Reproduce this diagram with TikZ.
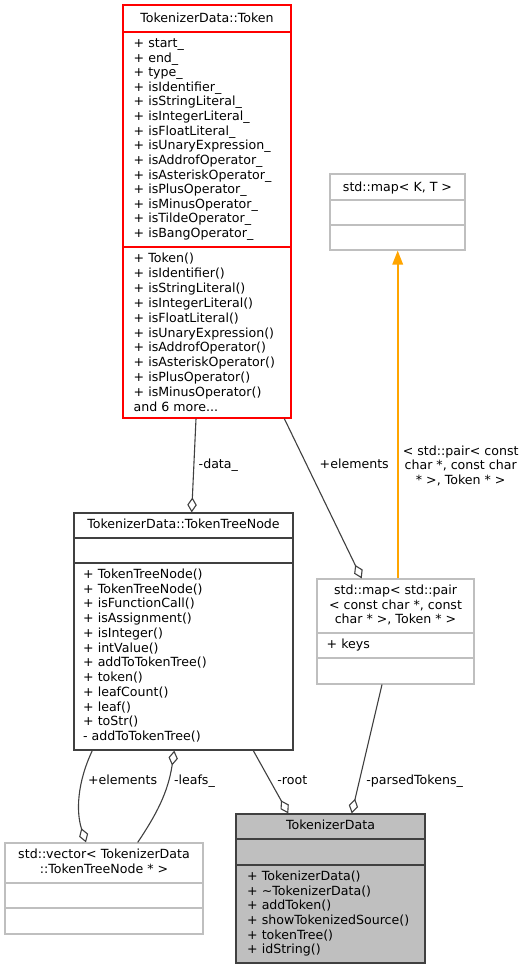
\documentclass[tikz,border=0pt]{standalone}
\usepackage{fontspec}
\setmainfont{DejaVu Sans}
\usetikzlibrary{arrows.meta}
\definecolor{edgegray}{HTML}{404040}
\definecolor{boxgray}{HTML}{BFBFBF}
\definecolor{boxred}{HTML}{FF0000}
\definecolor{orangeedge}{HTML}{FFA500}
\begin{document}
\begin{tikzpicture}[x=1pt,y=-1pt,
  txt/.style={font=\fontsize{12.6}{14.7}\selectfont, inner sep=0pt, text=black},
  member/.style={txt, anchor=base west},
  ttl/.style={txt, anchor=base},
  elabel/.style={txt, anchor=base west},
  cls/.style={draw=edgegray, line width=1.2pt, inner sep=0pt, fill=white},
  sep/.style={line width=1.2pt},
  assoc/.style={draw=edgegray, line width=1.1pt, -{Diamond[open, length=15pt, width=9.5pt, line width=1.1pt]}},
  inherit/.style={draw=orangeedge, line width=1.7pt, -{Triangle[length=14pt, width=10.5pt, fill=orangeedge]}}
]
\fill[white] (0,0) rectangle (526,969);
\useasboundingbox (0,0) rectangle (526,969);

% ---------- TokenizerData::Token ----------
\node[cls, draw=boxred, minimum width=168pt, minimum height=413pt] (tok) at (207,211.5) {};
\draw[sep, boxred] (tok.west |- 0,32) -- (tok.east |- 0,32);
\draw[sep, boxred] (tok.west |- 0,247) -- (tok.east |- 0,247);
\node[ttl] (tokT) at (207,23) {TokenizerData::Token};
\foreach \t [count=\i from 0] in {start\_, end\_, type\_, isIdentifier\_, isStringLiteral\_, isIntegerLiteral\_, isFloatLiteral\_, isUnaryExpression\_, isAddrofOperator\_, isAsteriskOperator\_, isPlusOperator\_, isMinusOperator\_, isTildeOperator\_, isBangOperator\_}
  \node[member] (tokA\i) at (133.5,{47.5+14.62*\i}) {+ \t};
\foreach \t [count=\i from 0] in {+ Token(), + isIdentifier(), + isStringLiteral(), + isIntegerLiteral(), + isFloatLiteral(), + isUnaryExpression(), + isAddrofOperator(), + isAsteriskOperator(), + isPlusOperator(), + isMinusOperator()}
  \node[member] (tokM\i) at (133.5,{262.5+14.9*\i}) {\t};
\node[member] (tokMore) at (133.5,411.5) {and 6 more...};

% ---------- std::map< K, T > ----------
\node[cls, draw=boxgray, minimum width=135pt, minimum height=76pt] (mk) at (397.5,212) {};
\draw[sep, boxgray] (mk.west |- 0,200) -- (mk.east |- 0,200);
\draw[sep, boxgray] (mk.west |- 0,225) -- (mk.east |- 0,225);
\node[ttl] (mkT) at (397.5,191.2) {std::map< K, T >};

% ---------- TokenizerData::TokenTreeNode ----------
\node[cls, minimum width=219pt, minimum height=237pt] (tn) at (183.5,631.5) {};
\draw[sep, edgegray] (tn.west |- 0,538) -- (tn.east |- 0,538);
\draw[sep, edgegray] (tn.west |- 0,563) -- (tn.east |- 0,563);
\node[ttl] (tnT) at (183.5,528.5) {TokenizerData::TokenTreeNode};
\foreach \t [count=\i from 0] in {+ TokenTreeNode(), + TokenTreeNode(), + isFunctionCall(), + isAssignment(), + isInteger(), + intValue(), + addToTokenTree(), + token(), + leafCount(), + leaf(), + toStr(), - addToTokenTree()}
  \node[member] (tnM\i) at (83,{578.5+14.73*\i}) {\t};

% ---------- std::map< std::pair ... > ----------
\node[cls, draw=boxgray, minimum width=157pt, minimum height=105pt] (mp) at (395.5,631.5) {};
\draw[sep, boxgray] (mp.west |- 0,633) -- (mp.east |- 0,633);
\draw[sep, boxgray] (mp.west |- 0,658) -- (mp.east |- 0,658);
\node[ttl] (mpT1) at (395.5,594.8) {std::map< std::pair};
\node[ttl] (mpT2) at (395.5,609.3) {< const char *, const};
\node[ttl] (mpT3) at (395.5,623.8) {char * >, Token * >};
\node[member] (mpA0) at (326.5,648.8) {+ keys};

% ---------- std::vector< ... > ----------
\node[cls, draw=boxgray, minimum width=198pt, minimum height=91pt] (vec) at (104,888.5) {};
\draw[sep, boxgray] (vec.west |- 0,883) -- (vec.east |- 0,883);
\draw[sep, boxgray] (vec.west |- 0,908) -- (vec.east |- 0,908);
\node[ttl] (vecT1) at (104,858.8) {std::vector< TokenizerData};
\node[ttl] (vecT2) at (104,873.5) {::TokenTreeNode * >};

% ---------- TokenizerData ----------
\node[cls, fill=boxgray, minimum width=189pt, minimum height=149pt] (td) at (330.5,888.5) {};
\draw[sep, edgegray] (td.west |- 0,839) -- (td.east |- 0,839);
\draw[sep, edgegray] (td.west |- 0,865) -- (td.east |- 0,865);
\node[ttl] (tdT) at (330.5,829.5) {TokenizerData};
\foreach \t [count=\i from 0] in {+ TokenizerData(), + \textasciitilde TokenizerData(), + addToken(), + showTokenizedSource(), + tokenTree(), + idString()}
  \node[member] (tdM\i) at (247,{880.5+14.66*\i}) {\t};

% ---------- connectors ----------
\draw[assoc] (tok.south -| 196,0) -- (tn.north -| 191.7,0);
\node[elabel] (lData) at (198.5,468.5) {-data\_};

\draw[assoc] (tok.south -| 284.3,0) -- (mp.north -| 361.7,0);
\node[elabel] (lElemMap) at (319.5,468.5) {+elements};

\draw[inherit] (mp.north -| 397.7,0) -- (mk.south -| 397.7,0);
\node[txt, anchor=base] (lInh1) at (460.7,455.2) {< std::pair< const};
\node[txt, anchor=base] (lInh2) at (460.7,469.6) {char *, const char};
\node[txt, anchor=base] (lInh3) at (460.7,484.2) {* >, Token * >};

\draw[assoc] (tn.south -| 92.3,0) .. controls (77,783) and (76,812) .. (vec.north -| 86,0);
\node[elabel] (lElemVec) at (87.8,784.5) {+elements};

\draw[assoc] (vec.north -| 137.7,0) .. controls (156,815) and (168,793) .. (tn.south -| 174.3,0);
\node[elabel] (lLeafs) at (173.8,784.5) {-leafs\_};

\draw[assoc] (tn.south -| 253.3,0) -- (td.north -| 288.3,0);
\node[elabel] (lRoot) at (277.2,784.5) {-root};

\draw[assoc] (mp.south -| 382,0) -- (td.north -| 351.7,0);
\node[elabel] (lParsed) at (366.2,784.5) {-parsedTokens\_};
\end{tikzpicture}
\end{document}
